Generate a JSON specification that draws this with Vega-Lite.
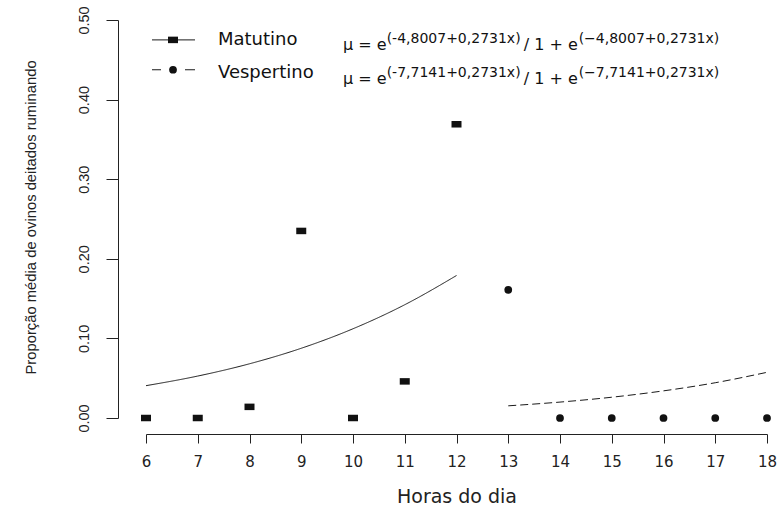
{
  "$schema": "https://vega.github.io/schema/vega-lite/v6.json",
  "width": 621,
  "height": 398,
  "autosize": "none",
  "padding": {"left": 146, "top": 20, "right": 14, "bottom": 89},
  "background": "white",
  "config": {"view": {"stroke": null}},
  "datasets": {
    "obs": [
      {"hora": 6, "prop": 0.0, "periodo": "Matutino"},
      {"hora": 7, "prop": 0.0, "periodo": "Matutino"},
      {"hora": 8, "prop": 0.014, "periodo": "Matutino"},
      {"hora": 9, "prop": 0.235, "periodo": "Matutino"},
      {"hora": 10, "prop": 0.0, "periodo": "Matutino"},
      {"hora": 11, "prop": 0.046, "periodo": "Matutino"},
      {"hora": 12, "prop": 0.369, "periodo": "Matutino"},
      {"hora": 13, "prop": 0.161, "periodo": "Vespertino"},
      {"hora": 14, "prop": 0.0, "periodo": "Vespertino"},
      {"hora": 15, "prop": 0.0, "periodo": "Vespertino"},
      {"hora": 16, "prop": 0.0, "periodo": "Vespertino"},
      {"hora": 17, "prop": 0.0, "periodo": "Vespertino"},
      {"hora": 18, "prop": 0.0, "periodo": "Vespertino"}
    ],
    "fit": [
      {"hora": 6, "prop": 0.0406, "periodo": "Matutino"},
      {"hora": 7, "prop": 0.0527, "periodo": "Matutino"},
      {"hora": 8, "prop": 0.0681, "periodo": "Matutino"},
      {"hora": 9, "prop": 0.0876, "periodo": "Matutino"},
      {"hora": 10, "prop": 0.1121, "periodo": "Matutino"},
      {"hora": 11, "prop": 0.1423, "periodo": "Matutino"},
      {"hora": 12, "prop": 0.179, "periodo": "Matutino"},
      {"hora": 13, "prop": 0.0153, "periodo": "Vespertino"},
      {"hora": 14, "prop": 0.02, "periodo": "Vespertino"},
      {"hora": 15, "prop": 0.0261, "periodo": "Vespertino"},
      {"hora": 16, "prop": 0.0341, "periodo": "Vespertino"},
      {"hora": 17, "prop": 0.0443, "periodo": "Vespertino"},
      {"hora": 18, "prop": 0.0574, "periodo": "Vespertino"}
    ]
  },
  "layer": [
    {
      "data": {"name": "fit"},
      "mark": {"type": "line", "color": "#1a1a1a", "strokeWidth": 1, "interpolate": "monotone"},
      "encoding": {
        "x": {
          "field": "hora", "type": "quantitative",
          "scale": {"domain": [6, 18], "nice": false, "zero": false},
          "axis": {
            "title": "Horas do dia",
            "values": [6, 7, 8, 9, 10, 11, 12, 13, 14, 15, 16, 17, 18],
            "offset": 16, "tickSize": 9, "labelPadding": 23, "labelBaseline": "alphabetic",
            "labelFont": "DejaVu Sans", "labelFontSize": 15, "labelColor": "#222",
            "titleFont": "DejaVu Sans", "titleFontSize": 19, "titleFontWeight": "normal", "titleColor": "#222",
            "titleX": 310.5, "titleY": 68, "titleBaseline": "alphabetic", "titleAlign": "center",
            "grid": false, "domainColor": "#222", "tickColor": "#222", "labelFlush": false, "labelOverlap": false
          }
        },
        "y": {
          "field": "prop", "type": "quantitative",
          "scale": {"domain": [0, 0.5], "nice": false},
          "axis": {
            "title": "Proporção média de ovinos deitados ruminando",
            "values": [0, 0.05, 0.1, 0.15, 0.2, 0.25, 0.3, 0.35, 0.4, 0.45, 0.5],
            "format": ".2f",
            "labelExpr": "round(datum.value * 20) % 2 == 0 ? datum.label : ''",
            "offset": 28, "tickSize": 12, "labelAngle": 270, "labelAlign": "center", "labelBaseline": "alphabetic",
            "labelPadding": 18, "labelFont": "Liberation Sans", "labelFontSize": 14.5, "labelColor": "#222",
            "titleFont": "Liberation Sans", "titleFontSize": 14.8, "titleFontWeight": "normal", "titleColor": "#222",
            "titleAngle": 270, "titleX": -83, "titleY": 197, "titleAlign": "center", "titleBaseline": "alphabetic",
            "grid": false, "domainColor": "#222", "tickColor": "#222", "labelFlush": false, "labelOverlap": false
          }
        },
        "strokeDash": {
          "field": "periodo", "type": "nominal",
          "scale": {"domain": ["Matutino", "Vespertino"], "range": [[1, 0], [8, 4]]},
          "legend": null
        }
      }
    },
    {
      "data": {"name": "obs"},
      "mark": {"type": "point", "filled": true, "opacity": 1, "size": 100, "color": "#111", "strokeWidth": 0},
      "encoding": {
        "x": {"field": "hora", "type": "quantitative"},
        "y": {"field": "prop", "type": "quantitative"},
        "size": {
          "field": "periodo", "type": "nominal",
          "scale": {"domain": ["Matutino", "Vespertino"], "range": [100, 60]},
          "legend": null
        },
        "shape": {
          "field": "periodo", "type": "nominal",
          "scale": {"domain": ["Matutino", "Vespertino"], "range": ["M-1,-0.65H1V0.65H-1Z", "circle"]},
          "legend": null
        }
      }
    },
    {
      "data": {"values": [{}]},
      "mark": {"type": "rule", "color": "#1a1a1a", "strokeWidth": 1},
      "encoding": {"x": {"datum": 6.116}, "x2": {"datum": 6.947}, "y": {"datum": 0.475}}
    },
    {
      "data": {"values": [{}]},
      "mark": {"type": "rule", "color": "#1a1a1a", "strokeWidth": 1, "strokeDash": [9, 24, 10]},
      "encoding": {"x": {"datum": 6.116}, "x2": {"datum": 6.947}, "y": {"datum": 0.4375}}
    },
    {
      "data": {"values": [{}]},
      "mark": {"type": "point", "filled": true, "opacity": 1, "size": 100, "color": "#111", "strokeWidth": 0, "shape": "M-1,-0.65H1V0.65H-1Z"},
      "encoding": {"x": {"datum": 6.522}, "y": {"datum": 0.475}}
    },
    {
      "data": {"values": [{}]},
      "mark": {"type": "point", "filled": true, "opacity": 1, "size": 60, "color": "#111", "strokeWidth": 0, "shape": "circle"},
      "encoding": {"x": {"datum": 6.522}, "y": {"datum": 0.4375}}
    },
    {
      "data": {"values": [{}]},
      "mark": {"type": "text", "text": "Matutino", "align": "left", "baseline": "alphabetic", "font": "DejaVu Sans", "fontSize": 18, "color": "#111"},
      "encoding": {"x": {"datum": 7.391}, "y": {"datum": 0.469}}
    },
    {
      "data": {"values": [{}]},
      "mark": {"type": "text", "text": "Vespertino", "align": "left", "baseline": "alphabetic", "font": "DejaVu Sans", "fontSize": 18, "color": "#111"},
      "encoding": {"x": {"datum": 7.391}, "y": {"datum": 0.4275}}
    },
    {
      "data": {"values": [{}]},
      "mark": {"type": "text", "text": "μ = e", "align": "left", "baseline": "alphabetic", "font": "DejaVu Sans", "fontSize": 16, "color": "#111"},
      "encoding": {"x": {"datum": 9.807}, "y": {"datum": 0.4625}}
    },
    {
      "data": {"values": [{}]},
      "mark": {"type": "text", "text": "(-4,8007+0,2731x)", "align": "left", "baseline": "alphabetic", "font": "DejaVu Sans", "fontSize": 14, "color": "#111"},
      "encoding": {"x": {"datum": 10.65}, "y": {"datum": 0.4715}}
    },
    {
      "data": {"values": [{}]},
      "mark": {"type": "text", "text": "/ 1 + e", "align": "left", "baseline": "alphabetic", "font": "DejaVu Sans", "fontSize": 16, "color": "#111"},
      "encoding": {"x": {"datum": 13.3}, "y": {"datum": 0.4625}}
    },
    {
      "data": {"values": [{}]},
      "mark": {"type": "text", "text": "(−4,8007+0,2731x)", "align": "left", "baseline": "alphabetic", "font": "DejaVu Sans", "fontSize": 14, "color": "#111"},
      "encoding": {"x": {"datum": 14.36}, "y": {"datum": 0.4715}}
    },
    {
      "data": {"values": [{}]},
      "mark": {"type": "text", "text": "μ = e", "align": "left", "baseline": "alphabetic", "font": "DejaVu Sans", "fontSize": 16, "color": "#111"},
      "encoding": {"x": {"datum": 9.807}, "y": {"datum": 0.42}}
    },
    {
      "data": {"values": [{}]},
      "mark": {"type": "text", "text": "(-7,7141+0,2731x)", "align": "left", "baseline": "alphabetic", "font": "DejaVu Sans", "fontSize": 14, "color": "#111"},
      "encoding": {"x": {"datum": 10.65}, "y": {"datum": 0.429}}
    },
    {
      "data": {"values": [{}]},
      "mark": {"type": "text", "text": "/ 1 + e", "align": "left", "baseline": "alphabetic", "font": "DejaVu Sans", "fontSize": 16, "color": "#111"},
      "encoding": {"x": {"datum": 13.3}, "y": {"datum": 0.42}}
    },
    {
      "data": {"values": [{}]},
      "mark": {"type": "text", "text": "(−7,7141+0,2731x)", "align": "left", "baseline": "alphabetic", "font": "DejaVu Sans", "fontSize": 14, "color": "#111"},
      "encoding": {"x": {"datum": 14.36}, "y": {"datum": 0.429}}
    }
  ]
}
